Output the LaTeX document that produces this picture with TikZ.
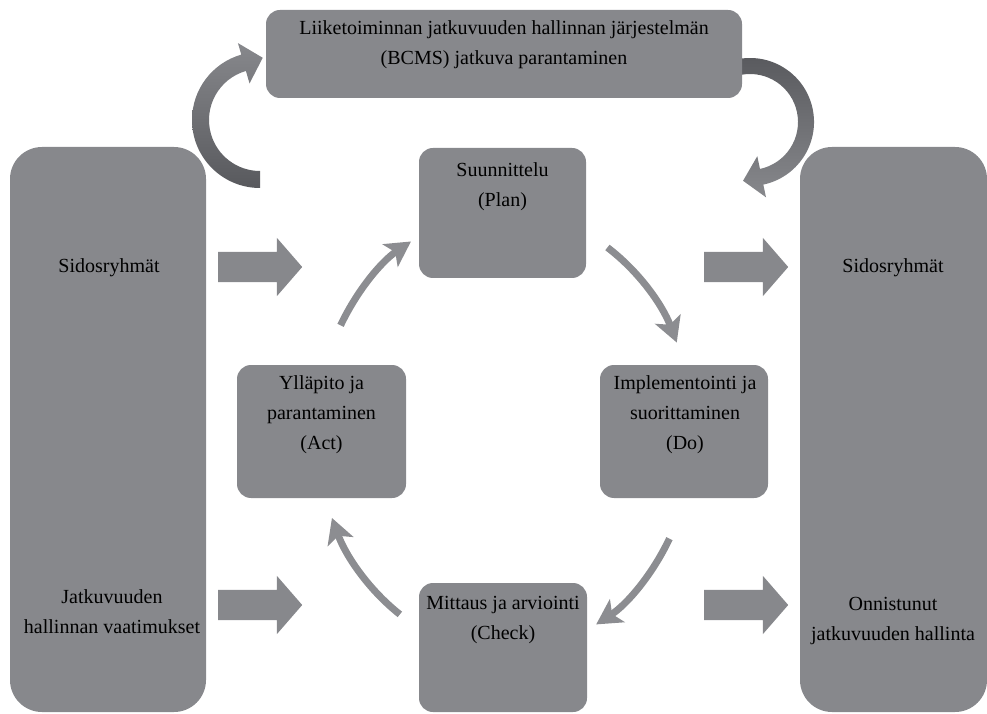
\documentclass[tikz,border=0pt]{standalone}
\usepackage{fontspec}
\setmainfont{Liberation Serif}
\usepackage{tikz}
\usetikzlibrary{arrows.meta,shapes.arrows,calc,positioning}

\definecolor{boxgray}{RGB}{135,136,140}
\definecolor{bcmsdark}{RGB}{88,89,93}
\definecolor{ringgray}{RGB}{140,141,145}

\begin{document}
\begin{tikzpicture}[x=1pt,y=1pt,
    box/.style={fill=boxgray, rounded corners=14pt, inner sep=0pt},
    tall/.style={box, rounded corners=32pt},
    lbl/.style={align=center, font=\fontsize{20}{30}\selectfont, text=black},
    fat/.style={single arrow, fill=boxgray, inner xsep=0pt, inner ysep=15pt, minimum height=84pt,
        single arrow head extend=14pt, single arrow tip angle=98, anchor=tail},
    cyc/.style={draw=ringgray, line width=7pt, -{Stealth[length=25pt,width=27pt,inset=6pt]}}]
    \useasboundingbox (0,0) rectangle (987,713);

    % curved arrows round the BCMS box
    \coordinate (lc) at (260,593);
    \coordinate (rc) at (750,591);
    \shade[top color=boxgray, bottom color=bcmsdark]
        ([shift={(270:68)}]lc) arc[start angle=270, end angle=106, radius=68]
        -- ([shift={(106:80)}]lc) -- ($(lc)+(106:59)+(19,5.5)$)
        -- ([shift={(106:38)}]lc) -- ([shift={(106:51)}]lc)
        arc[start angle=106, end angle=270, radius=51] -- cycle;
    \shade[top color=bcmsdark, bottom color=boxgray]
        ([shift={(100:64)}]rc) arc[start angle=100, end angle=-78, radius=64]
        -- ([shift={(-78:77)}]rc) -- ($(rc)+(-78:56)+(-18.6,-4)$)
        -- ([shift={(-78:35)}]rc) -- ([shift={(-78:48)}]rc)
        arc[start angle=-78, end angle=100, radius=48] -- cycle;

    % boxes
    \node[box, minimum width=476pt, minimum height=88pt] (bcms) at (504,659) {};
    \node[tall, minimum width=196pt, minimum height=565pt] (inL) at (108,283.5) {};
    \node[tall, minimum width=187pt, minimum height=565pt] (outR) at (893.5,283.5) {};
    \node[box, minimum width=167pt, minimum height=130pt] (plan) at (502.5,500) {};
    \node[box, minimum width=169pt, minimum height=133pt] (act) at (321.5,281.5) {};
    \node[box, minimum width=168pt, minimum height=133pt] (do) at (684,281.5) {};
    \node[box, minimum width=168pt, minimum height=129pt] (check) at (503,65.5) {};

    % texts
    \node[lbl] (bcms-t) at (504,668) {Liiketoiminnan jatkuvuuden hallinnan järjestelmän\\(BCMS) jatkuva parantaminen};
    \node[lbl] (plan-t) at (502.5,526.5) {Suunnittelu\\(Plan)};
    \node[lbl] (act-t) at (321.5,298) {Ylläpito ja\\parantaminen\\(Act)};
    \node[lbl] (do-t) at (685,298) {Implementointi ja\\suorittaminen\\(Do)};
    \node[lbl] (check-t) at (503,93) {Mittaus ja arviointi\\(Check)};
    \node[lbl] (inL-t1) at (109,445) {Sidosryhmät};
    \node[lbl] (inL-t2) at (112,101) {Jatkuvuuden\\hallinnan vaatimukset};
    \node[lbl] (outR-t1) at (893,445) {Sidosryhmät};
    \node[lbl] (outR-t2) at (893,92) {Onnistunut\\jatkuvuuden hallinta};

    % block arrows in and out
    \foreach \x/\y/\n in {218/446/in1, 218/108/in2, 704/446/out1, 704/108/out2}
        \node[fat] (\n) at (\x,\y) {};

    % PDCA ring
    \coordinate (hub) at (505,281);
    \foreach \s/\e in {151/120, 57/24, -29/-61, -124/-157}
        \draw[cyc] ([shift={(\s:188 and 220)}]hub)
            arc[start angle=\s, end angle=\e, x radius=188, y radius=220];
\end{tikzpicture}
\end{document}
